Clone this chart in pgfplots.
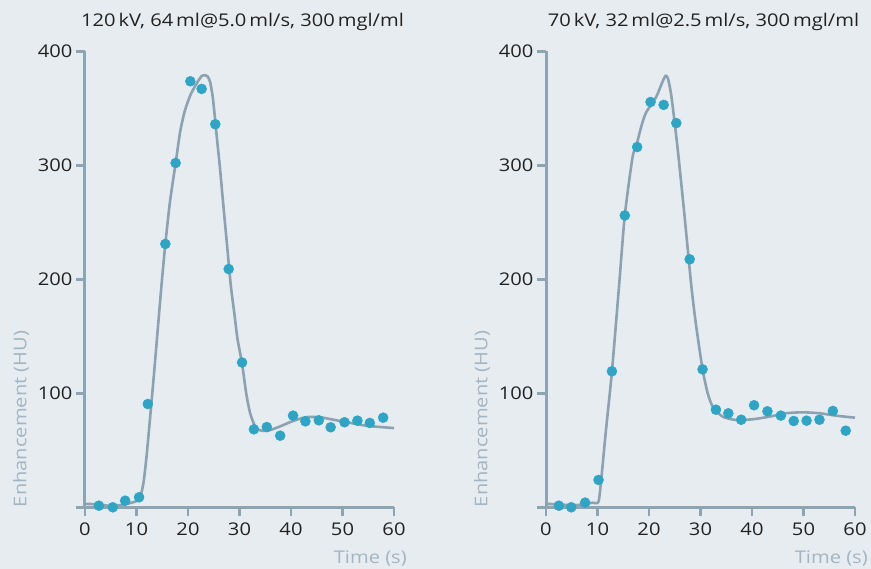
\documentclass[border=0pt]{standalone}
\usepackage{pgfplots}
\pgfplotsset{compat=1.18}
\usepackage{fontspec}
\setmainfont{Open Sans}[FakeStretch=1.15]

\definecolor{bg}{HTML}{E7ECF0}
\definecolor{axiscol}{HTML}{8DA4B3}
\definecolor{curvecol}{HTML}{8CA2B1}
\definecolor{dotcol}{HTML}{2FA5C5}
\definecolor{labcol}{HTML}{A3B5C2}
\definecolor{txt}{HTML}{222222}

\pgfplotsset{
  enh/.style={
    scale only axis, width=309pt, height=456pt,
    anchor=south west,
    xmin=0, xmax=60, ymin=0, ymax=400,
    axis lines=left,
    axis line style={draw=axiscol, line width=3pt, -},
    tick style={draw=axiscol, line width=2.8pt},
    major tick length=9pt, tick align=outside,
    xtick={0,10,...,60},
    ytick={0,100,...,400},
    yticklabels={{},100,200,300,400},
    /pgf/number format/assume math mode=true,
    tick label style={font=\fontsize{17.5}{20}\selectfont, text=txt},
    xticklabel style={yshift=-3pt},
    clip=false,
  },
  fit/.style={draw=curvecol, line width=2.6pt, smooth, tension=0.4, no marks},
  meas/.style={only marks, color=dotcol, mark=*, mark size=5pt, mark options={draw=dotcol, fill=dotcol, line width=0.5pt}},
}

\newcommand\decor[1]{%
  \node[anchor=base, font=\fontsize{17.5}{20}\selectfont, text=txt]
    at (rel axis cs:0.5,1) [xshift=3pt, yshift=25pt] {#1};
  \node[xshift=-64pt, rotate=90, anchor=west, inner sep=0pt, font=\fontsize{17.5}{20}\selectfont, text=labcol]
    at (rel axis cs:0,0) {Enhancement (HU)};
  \node[anchor=base east, inner sep=0pt, font=\fontsize{17.5}{20}\selectfont, text=labcol]
    at (rel axis cs:1,0) [xshift=13pt, yshift=-56pt] {Time (s)};
}

\begin{document}
\begin{tikzpicture}
\fill[bg] (0,0) rectangle (871pt,569pt);

\begin{axis}[enh, at={(85pt,61.7pt)}]
\addplot[fit] coordinates {
  (0,3) (3,2.5) (5,1) (7,2) (9,4) (10.5,7) (11.3,20) (12,47) (13.3,112)
  (14.8,192) (15.6,231) (16.5,268) (17.6,302) (18.5,330) (19.4,348)
  (20.5,362) (21.7,372) (22.6,378) (23.2,379) (23.8,378) (24.3,373)
  (24.8,360) (25.2,343) (25.7,320) (26.2,298) (26.8,268) (27.5,234)
  (28.3,195) (29,170) (29.6,148) (30.5,126) (31.3,100) (32.1,82)
  (33.3,69) (35.3,67) (37.9,71) (40,75) (42.8,79) (45.6,79) (48,77)
  (50.4,75) (54.7,71.5) (60,69.5)
};
\addplot[meas] coordinates {
  (2.7,1.4) (5.4,0) (7.8,5.8) (10.5,8.8) (12.2,90.6) (15.6,231) (17.6,302)
  (20.45,373.7) (22.65,367) (25.3,336) (27.9,209) (30.5,127) (32.8,68.4)
  (35.3,70.4) (37.9,62.8) (40.4,80.4) (42.8,75.4) (45.4,76.3) (47.7,70.2)
  (50.4,74.6) (52.9,76) (55.3,74) (57.9,78.6)
};
\decor{120\,kV, 64\,ml@5.0\,ml/s, 300\,mgl/ml}
\end{axis}

\begin{axis}[enh, at={(546pt,61.7pt)}]
\addplot[fit] coordinates {
  (0,3) (3,2.5) (5,1.5) (7,2.5) (9,4) (10.2,5) (10.8,28) (11.65,68)
  (12.8,119) (14.2,195) (15.3,256) (16.8,307) (17.7,320) (18.5,334)
  (19.4,346) (21.4,360) (22.5,372) (23.2,378.5) (23.6,377) (23.9,372)
  (24.3,362) (24.7,348) (25.6,313) (26.85,258) (28.2,195) (29.1,161)
  (30.4,121) (31.4,100) (32.4,88) (34.3,79.5) (36.9,76.6) (40.1,77.2)
  (43.4,79.5) (46.6,82.5) (49.8,83.3) (53.1,82.5) (56.3,80.4) (60,78.6)
};
\addplot[meas] coordinates {
  (2.5,1.4) (4.9,0) (7.6,4.1) (10.2,24) (12.8,119.3) (15.3,256) (17.7,316)
  (20.3,355.5) (22.85,353) (25.3,337) (27.9,217.5) (30.4,121) (33.0,85.6)
  (35.4,82.4) (37.9,76.8) (40.4,89.5) (43.0,84.2) (45.6,80.4) (48.1,75.7)
  (50.6,76) (53.1,76.8) (55.7,84.5) (58.2,67.2)
};
\decor{70\,kV, 32\,ml@2.5\,ml/s, 300\,mgl/ml}
\end{axis}
\end{tikzpicture}
\end{document}
